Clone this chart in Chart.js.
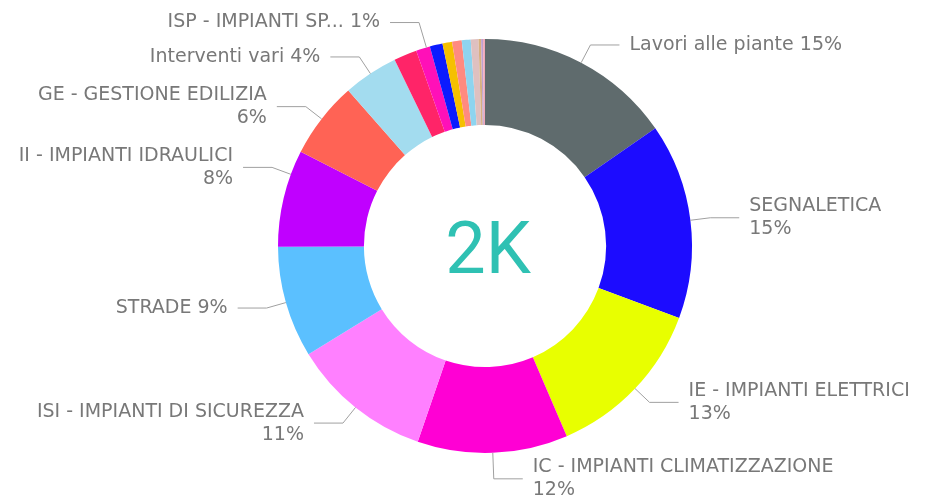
<!DOCTYPE html>
<html>
<head>
<meta charset="utf-8">
<script src="https://cdn.jsdelivr.net/npm/chart.js@4/dist/chart.umd.min.js"></script>
<style>
  html, body { margin: 0; padding: 0; background: #ffffff; }
  #wrap { width: 925px; height: 503px; }
</style>
</head>
<body>
<div id="wrap"><canvas id="c" width="925" height="503"></canvas></div>
<script>
// ---- data ----
const categories = [
  "Lavori alle piante",
  "SEGNALETICA",
  "IE - IMPIANTI ELETTRICI",
  "IC - IMPIANTI CLIMATIZZAZIONE",
  "ISI - IMPIANTI DI SICUREZZA",
  "STRADE",
  "II - IMPIANTI IDRAULICI",
  "GE - GESTIONE EDILIZIA",
  "Interventi vari",
  "IA - IMPIANTI ASCENSORI",
  "ISP - IMPIANTI SPECIALI",
  "IF - INFISSI",
  "OE - OPERE EDILI",
  "VE - VERDE",
  "PU - PULIZIE",
  "AR - ARREDI",
  "FA - FACCHINAGGIO",
  "DI - DISINFESTAZIONE",
  "AL - ALTRO"
];
const values = [308, 306, 258, 235, 220, 174, 152, 120, 86, 36, 22, 20, 15, 15, 14, 12, 4, 3, 3];
const colors = [
  "#5f6b6d", "#1c0cff", "#e8ff00", "#ff00d4", "#ff80ff", "#5bc0ff", "#c000ff",
  "#ff6355", "#a3dcef", "#ff2468", "#ff10b8", "#0b1bff", "#f5c000", "#ff8a80",
  "#8ed4ef", "#dfc0c0", "#d8b080", "#c0a0d0", "#f0a8b8"
];
// which slices carry an outside label, and how the label is shaped
const labeledIdx   = [0, 1, 2, 3, 4, 5, 6, 7, 8, 10];
const labelMode    = ["one", "two", "two", "two", "two", "one", "two", "two", "one", "trunc"];
const anchorFrac   = [0.5, 0.5, 0.5, 0.5, 0.5, 0.5, 0.75, 0.5, 0.5, 0.75];
const radialExt    = [20, 20, 20, 26, 20, 20, 20, 20, 20, 26];

const FONT = "'DejaVu Sans', sans-serif";
const total = values.reduce((a, b) => a + b, 0);

const labelPlugin = {
  id: 'outLabels',
  afterDraw(chart) {
    const ctx = chart.ctx;
    const meta = chart.getDatasetMeta(0);
    ctx.save();
    ctx.font = "19px " + FONT;
    ctx.textBaseline = "middle";
    labeledIdx.forEach((idx, k) => {
      const arc = meta.data[idx];
      const p = arc.getProps(['x', 'y', 'startAngle', 'endAngle', 'outerRadius'], true);
      const a = p.startAngle + (p.endAngle - p.startAngle) * anchorFrac[k];
      const cos = Math.cos(a), sin = Math.sin(a);
      const sx = p.x + cos * p.outerRadius, sy = p.y + sin * p.outerRadius;
      const ex = p.x + cos * (p.outerRadius + radialExt[k]);
      const ey = p.y + sin * (p.outerRadius + radialExt[k]);
      const right = cos >= 0;
      const hx = ex + (right ? 29 : -29);
      ctx.strokeStyle = "#a0a0a0";
      ctx.lineWidth = 1;
      ctx.beginPath();
      ctx.moveTo(sx, sy);
      ctx.lineTo(ex, ey);
      ctx.lineTo(hx, ey);
      ctx.stroke();
      const pct = Math.round(values[idx] / total * 100) + "%";
      let name = categories[idx];
      if (labelMode[k] === "trunc") name = name.slice(0, 17) + "...";
      const tx = hx + (right ? 10 : -10);
      ctx.fillStyle = "#787878";
      ctx.textAlign = right ? "left" : "right";
      if (labelMode[k] === "two") {
        ctx.fillText(name, tx, ey - 11.5);
        ctx.fillText(pct, tx, ey + 11.5);
      } else {
        ctx.fillText(name + " " + pct, tx, ey);
      }
    });
    // center total
    const c = meta.data[0];
    ctx.font = "72px Roboto, sans-serif";
    ctx.fillStyle = "#2fc1b3";
    ctx.textAlign = "center";
    ctx.textBaseline = "alphabetic";
    const t = Math.round(total / 1000) + "K";
    ctx.fillText(t, c.x + 3, c.y + 27);
    ctx.restore();
  }
};

new Chart(document.getElementById('c'), {
  type: 'doughnut',
  data: {
    labels: categories,
    datasets: [{
      data: values,
      backgroundColor: colors,
      borderWidth: 0
    }]
  },
  options: {
    responsive: false,
    animation: false,
    cutout: '58.5%',
    layout: { padding: { top: 39, bottom: 50, left: 278, right: 233 } },
    plugins: { legend: { display: false }, tooltip: { enabled: false } }
  },
  plugins: [labelPlugin]
});
</script>
</body>
</html>
